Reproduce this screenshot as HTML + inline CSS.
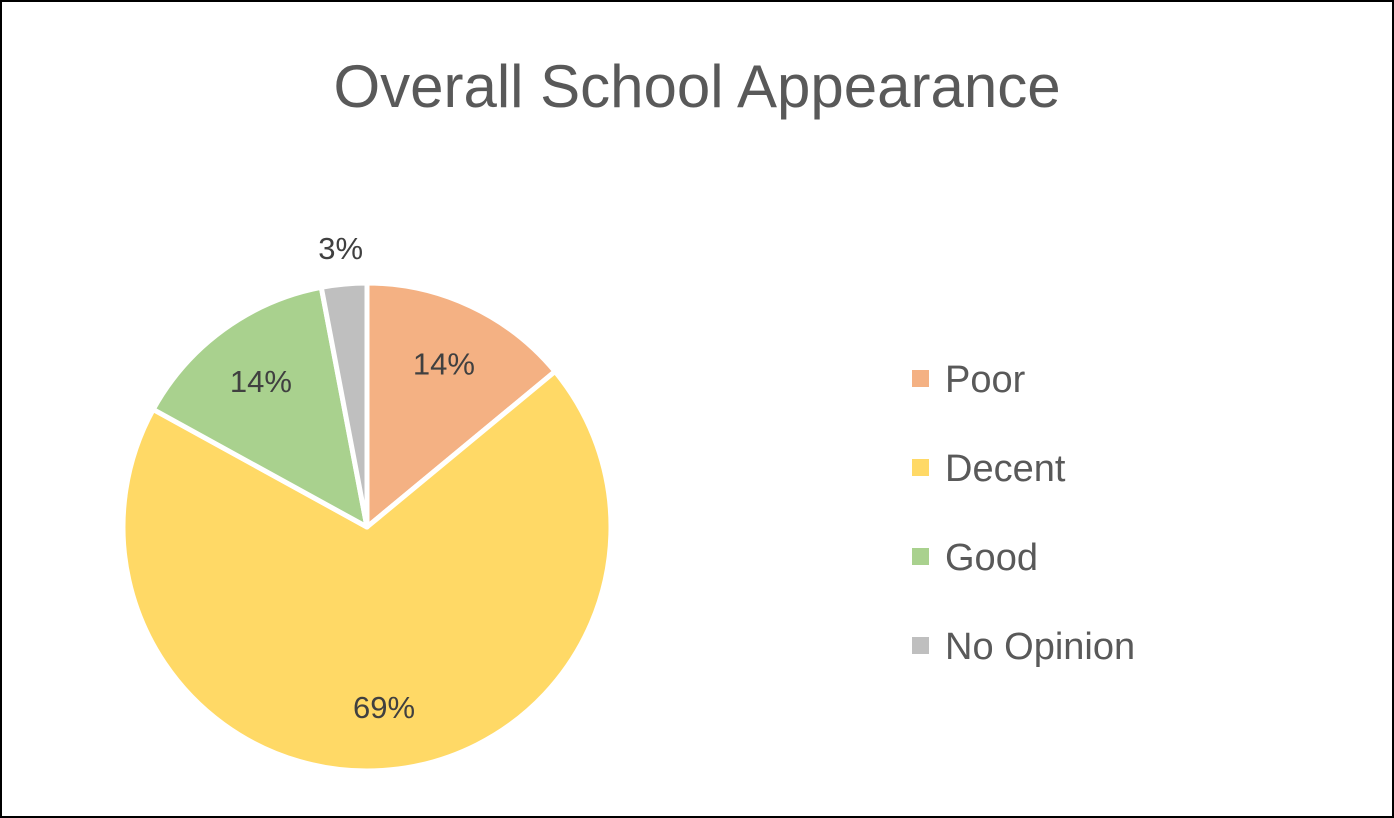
<!DOCTYPE html>
<html><head><meta charset="utf-8"><style>
html,body{margin:0;padding:0;background:#fff;}
svg{display:block;font-family:"Liberation Sans",sans-serif;}
</style></head><body>
<svg id="chart" width="1394" height="818" viewBox="0 0 1394 818">
<rect x="1" y="1" width="1392" height="816" fill="#fff" stroke="#000" stroke-width="2"/>
<text x="697" y="107" text-anchor="middle" font-size="60" fill="#595959">Overall School Appearance</text>
<g id="slices"></g>
<g id="labels"></g>
<g id="legend"></g>
</svg>
<script>
const categories = ["Poor","Decent","Good","No Opinion"];
const values = [14,69,14,3];
const valueLabels = ["14%","69%","14%","3%"];
const colors = ["#F4B183","#FFD966","#A9D18E","#BFBFBF"];
const NS="http://www.w3.org/2000/svg";
const cx=367, cy=527, r=244;
const total=values.reduce((a,b)=>a+b,0);
function pt(frac,rad){const a=frac*2*Math.PI;return [cx+rad*Math.sin(a),cy-rad*Math.cos(a)];}
const gS=document.getElementById("slices"),gL=document.getElementById("labels"),gG=document.getElementById("legend");
let acc=0;
values.forEach((v,i)=>{
  const f0=acc/total,f1=(acc+v)/total;acc+=v;
  const [x0,y0]=pt(f0,r),[x1,y1]=pt(f1,r);
  const large=(f1-f0)>0.5?1:0;
  const p=document.createElementNS(NS,"path");
  p.setAttribute("d",`M${cx},${cy} L${x0},${y0} A${r},${r} 0 ${large} 1 ${x1},${y1} Z`);
  p.setAttribute("fill",colors[i]);p.setAttribute("stroke","#fff");p.setAttribute("stroke-width","5");p.setAttribute("stroke-linejoin","round");
  
  
  gS.appendChild(p);
  const mid=(f0+f1)/2;
  const lr=(f1-f0)<0.06? r+36 : r*0.74;
  const [lx,ly]=pt(mid,lr);
  const t=document.createElementNS(NS,"text");
  t.setAttribute("x",lx);t.setAttribute("y",ly+11);t.setAttribute("text-anchor","middle");
  t.setAttribute("font-size","31");t.setAttribute("fill","#404040");t.textContent=valueLabels[i];
  
  
  gL.appendChild(t);
  const ry=370+i*89;
  const sq=document.createElementNS(NS,"rect");
  sq.setAttribute("x",912);sq.setAttribute("y",ry);sq.setAttribute("width",17);sq.setAttribute("height",17);sq.setAttribute("fill",colors[i]);
  
  
  gG.appendChild(sq);
  const lt=document.createElementNS(NS,"text");
  lt.setAttribute("x",945);lt.setAttribute("y",ry+22);lt.setAttribute("font-size","38");lt.setAttribute("fill","#595959");lt.textContent=categories[i];
  
  
  gG.appendChild(lt);
});
</script>
</body></html>
